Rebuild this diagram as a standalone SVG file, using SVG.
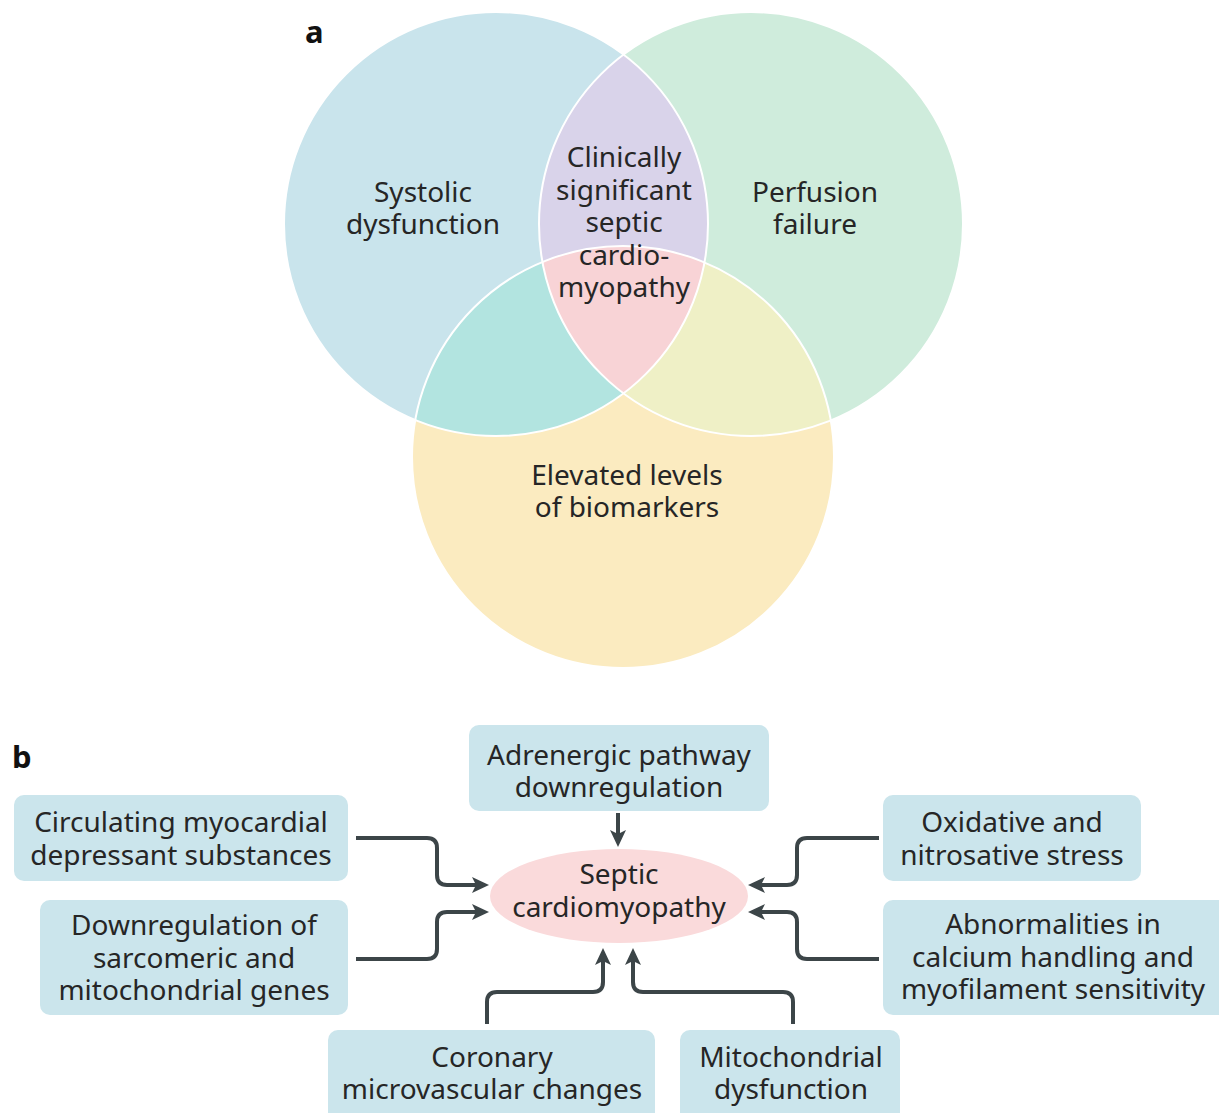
<svg xmlns="http://www.w3.org/2000/svg" width="1219" height="1113" viewBox="0 0 1219 1113">
  <style>
    .t { font-family: "Noto Sans", "Open Sans", sans-serif; font-size: 28px; fill: #262626; text-anchor: middle; }
    .lbl { font-family: "Noto Sans", "Liberation Sans", sans-serif; font-size: 31px; font-weight: bold; fill: #111; }
    .box { fill: #cbe5ec; }
    .conn { fill: none; stroke: #3c4548; stroke-width: 4; stroke-linejoin: round; marker-end: url(#arr); }
    .edge { fill: none; stroke: #ffffff; stroke-width: 2; }
  </style>
  <defs>
    <marker id="arr" markerUnits="userSpaceOnUse" markerWidth="18" markerHeight="16" viewBox="0 0 18 16" refX="9" refY="8" orient="auto">
      <path d="M0,0 L17,8 L0,16 L4,8 Z" fill="#3c4548"/>
    </marker>
    <clipPath id="cL"><circle cx="496" cy="224" r="212"/></clipPath>
    <clipPath id="cR"><circle cx="751" cy="224" r="212"/></clipPath>
  </defs>
  <rect width="1219" height="1113" fill="#ffffff"/>

  <!-- Panel a: Venn -->
  <g id="venn">
    <circle id="systolic" cx="496" cy="224" r="212" fill="#c9e4ec"/>
    <circle id="perfusion" cx="751" cy="224" r="212" fill="#cfecdc"/>
    <circle id="biomarkers" cx="623" cy="457" r="211" fill="#fbebc0"/>
    <circle cx="751" cy="224" r="212" fill="#d9d3ea" clip-path="url(#cL)"/>
    <circle cx="623" cy="457" r="211" fill="#b2e4e0" clip-path="url(#cL)"/>
    <circle cx="623" cy="457" r="211" fill="#eff0c6" clip-path="url(#cR)"/>
    <g clip-path="url(#cL)">
      <circle cx="623" cy="457" r="211" fill="#f8d3d6" clip-path="url(#cR)"/>
    </g>
    <circle class="edge" cx="496" cy="224" r="212"/>
    <circle class="edge" cx="751" cy="224" r="212"/>
    <circle class="edge" cx="623" cy="457" r="211"/>
  </g>
  <text class="lbl" x="305" y="43">a</text>
  <g id="venn-labels">
    <text class="t" x="423" y="202">Systolic</text>
    <text class="t" x="423" y="234">dysfunction</text>
    <text class="t" x="815" y="202">Perfusion</text>
    <text class="t" x="815" y="234">failure</text>
    <text class="t" x="624" y="167">Clinically</text>
    <text class="t" x="624" y="199.5">significant</text>
    <text class="t" x="624" y="232">septic</text>
    <text class="t" x="624" y="264.5">cardio-</text>
    <text class="t" x="624" y="297">myopathy</text>
    <text class="t" x="627" y="485">Elevated levels</text>
    <text class="t" x="627" y="517">of biomarkers</text>
  </g>

  <!-- Panel b -->
  <text class="lbl" x="12" y="768">b</text>

  <g id="connectors">
    <path class="conn" d="M618,813 V839"/>
    <path class="conn" d="M356,838 H427 Q437,838 437,848 V875 Q437,885 447,885 H481"/>
    <path class="conn" d="M356,959 H427 Q437,959 437,949 V922 Q437,912 447,912 H481"/>
    <path class="conn" d="M879,838 H807 Q797,838 797,848 V875 Q797,885 787,885 H756"/>
    <path class="conn" d="M879,959 H807 Q797,959 797,949 V922 Q797,912 787,912 H756"/>
    <path class="conn" d="M487,1024 V1002 Q487,992 497,992 H593 Q603,992 603,982 V956"/>
    <path class="conn" d="M793,1024 V1002 Q793,992 783,992 H643 Q633,992 633,982 V956"/>
  </g>

  <g id="septic">
    <ellipse cx="619" cy="896" rx="129" ry="47" fill="#fadadb"/>
    <text class="t" x="619" y="884">Septic</text>
    <text class="t" x="619" y="917">cardiomyopathy</text>
  </g>

  <g id="adrenergic">
    <rect class="box" x="469" y="725" width="300" height="86" rx="10"/>
    <text class="t" x="619" y="765">Adrenergic pathway</text>
    <text class="t" x="619" y="797">downregulation</text>
  </g>

  <g id="circulating">
    <rect class="box" x="14" y="795" width="334" height="86" rx="10"/>
    <text class="t" x="181" y="832">Circulating myocardial</text>
    <text class="t" x="181" y="865">depressant substances</text>
  </g>

  <g id="downregulation">
    <rect class="box" x="40" y="900" width="308" height="115" rx="10"/>
    <text class="t" x="194" y="935">Downregulation of</text>
    <text class="t" x="194" y="968">sarcomeric and</text>
    <text class="t" x="194" y="1000">mitochondrial genes</text>
  </g>

  <g id="coronary">
    <rect class="box" x="328" y="1030" width="327" height="95" rx="10"/>
    <text class="t" x="492" y="1067">Coronary</text>
    <text class="t" x="492" y="1099">microvascular changes</text>
  </g>

  <g id="mitochondrial">
    <rect class="box" x="680" y="1030" width="220" height="95" rx="10"/>
    <text class="t" x="791" y="1067">Mitochondrial</text>
    <text class="t" x="791" y="1099">dysfunction</text>
  </g>

  <g id="oxidative">
    <rect class="box" x="883" y="795" width="258" height="86" rx="10"/>
    <text class="t" x="1012" y="832">Oxidative and</text>
    <text class="t" x="1012" y="865">nitrosative stress</text>
  </g>

  <g id="abnormalities">
    <rect class="box" x="883" y="900" width="346" height="115" rx="10"/>
    <text class="t" x="1053" y="934">Abnormalities in</text>
    <text class="t" x="1053" y="967">calcium handling and</text>
    <text class="t" x="1053" y="999">myofilament sensitivity</text>
  </g>
</svg>
